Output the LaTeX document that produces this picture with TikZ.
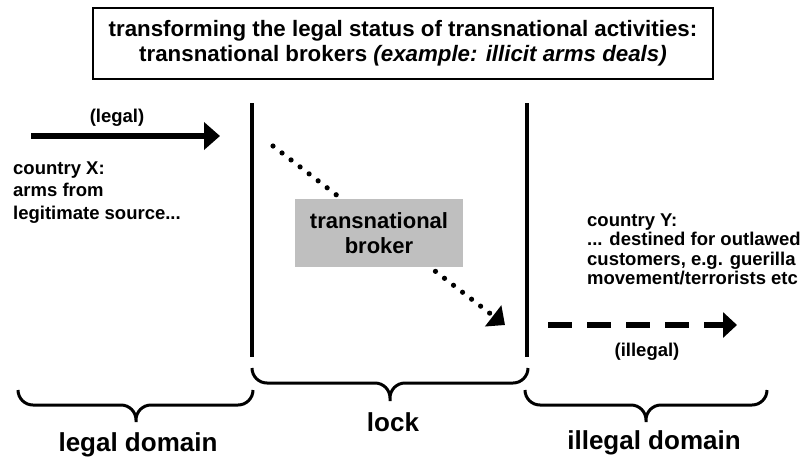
\documentclass[tikz,border=0pt]{standalone}
\usepackage{fontspec}
\setmainfont{Liberation Sans}
\usetikzlibrary{arrows.meta}
\begin{document}
\begin{tikzpicture}[x=1pt,y=-1pt,
  every node/.style={inner sep=0pt},
  txt/.style={font=\fontsize{18.5}{20}\selectfont\bfseries},
  big/.style={font=\fontsize{26}{30}\selectfont\bfseries},
  wall/.style={line width=4pt},
  brc/.style={line width=3pt, rounded corners=15pt},
  flow/.style={line width=5.5pt, -{Triangle[length=16pt,width=27pt]}},
  illflow/.style={line width=6pt, dash pattern=on 24pt off 15pt, -{Triangle[length=14pt,width=25pt]}},
  dotflow/.style={line width=5.2pt, line cap=round, dash pattern=on 0pt off 11.4pt, -{Triangle[length=15pt,width=26pt]}}
]
\useasboundingbox (0,0) rectangle (801,456);

% title
\node[draw, line width=2.5pt, minimum width=620pt, minimum height=71pt, align=center,
      font=\fontsize{22.3}{25}\selectfont\bfseries] (title) at (403,43.5)
  {transforming the legal status of transnational activities:\\
   transnational brokers \textit{(example: illicit arms deals)}};

% walls of the lock
\coordinate (wLtop) at (252,103);
\coordinate (wLbot) at (252,357);
\coordinate (wRtop) at (527,103);
\coordinate (wRbot) at (527,357);
\draw[wall] (wLtop) -- (wLbot);
\draw[wall] (wRtop) -- (wRbot);

% legal flow
\coordinate (legS) at (31,136);
\coordinate (legE) at (220,136);
\draw[flow] (legS) -- (legE);
\node[txt] (legalLbl) at (117,118) {(legal)};
\node[txt, anchor=west, align=left, font=\fontsize{18.5}{22.5}\selectfont\bfseries] (srcX) at (13,192.5)
  {country X:\\arms from\\legitimate source...};

% broker flow
\coordinate (brS) at (273,146);
\coordinate (brE) at (505,325);
\draw[dotflow] (brS) -- (brE);
\node[fill=gray!50, minimum width=168pt, minimum height=68pt, align=center,
      font=\fontsize{22}{25}\selectfont\bfseries] (broker) at (379,233) {transnational\\broker};

% illegal flow
\coordinate (illS) at (548,325);
\coordinate (illE) at (737,325);
\draw[illflow] (illS) -- (illE);
\node[txt] (illegalLbl) at (647,352) {(illegal)};
\node[txt, anchor=west, align=left, font=\fontsize{18.5}{19.5}\selectfont\bfseries] (dstY) at (587,249.5)
  {country Y:\\... destined for outlawed\\customers, e.g. guerilla\\movement/terrorists etc};

% braces
\draw[brc] (18,390) -- (18,405) -- (136,405) -- (136,422)
           (253,390) -- (253,405) -- (136,405) -- (136,422);
\draw[brc] (252,368) -- (252,383) -- (390,383) -- (390,401)
           (528,368) -- (528,383) -- (390,383) -- (390,401);
\draw[brc] (525,390) -- (525,405) -- (646,405) -- (646,422)
           (767,390) -- (767,405) -- (646,405) -- (646,422);

\node[big] (legalDom) at (138,445) {legal domain};
\node[big] (lockLbl) at (393,422) {lock};
\node[big] (illegalDom) at (654,443) {illegal domain};
\end{tikzpicture}
\end{document}
